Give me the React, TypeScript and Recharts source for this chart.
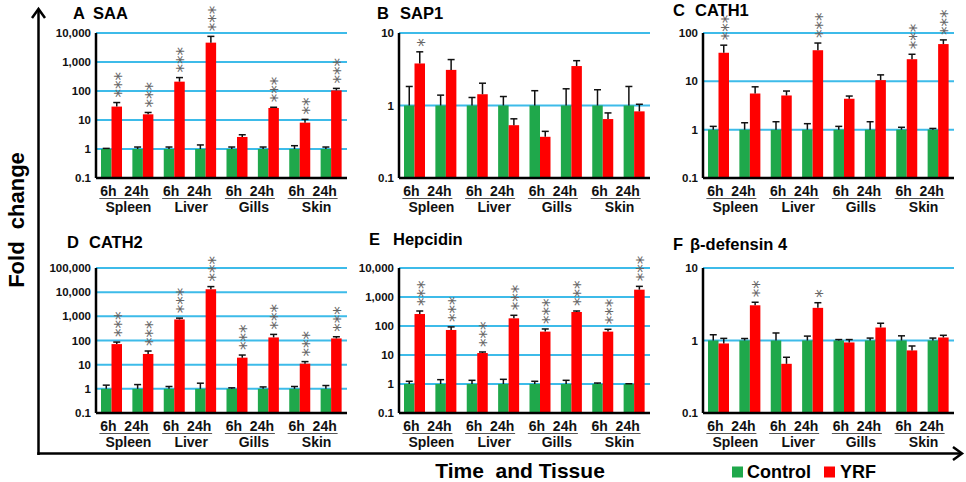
import React from "react"
import { Bar, BarChart, CartesianGrid, XAxis, YAxis } from "recharts"

// categories
const TISSUES = ["Spleen", "Liver", "Gills", "Skin"]
const TIMES = ["6h", "24h"]

// panel titles
const LETTERS = ["A", "B", "C", "D", "E", "F"]
const GENES = ["SAA", "SAP1", "CATH1", "CATH2", "Hepcidin", "β-defensin 4"]

// y axis ticks per panel
const TICKS_A = [0.1, 1, 10, 100, 1000, 10000]
const TICKS_B = [0.1, 1, 10]
const TICKS_C = [0.1, 1, 10, 100]
const TICKS_D = [0.1, 1, 10, 100, 1000, 10000, 100000]
const TICKS_E = [0.1, 1, 10, 100, 1000, 10000]
const TICKS_F = [0.1, 1, 10]

// control is the reference level
const CONTROL = [1, 1, 1, 1, 1, 1, 1, 1]

// order: Spleen 6h, Spleen 24h, Liver 6h, Liver 24h, Gills 6h, Gills 24h, Skin 6h, Skin 24h
const SAA_CTRL_ERR = [0.05, 0.17, 0.17, 0.38, 0.17, 0.17, 0.3, 0.17]
const SAA_YRF = [29, 15.7, 210, 4650, 2.6, 26, 8.1, 105]
const SAA_YRF_ERR = [11, 2.5, 80, 3000, 0.5, 1.5, 2.4, 18]
const SAA_STARS = [3, 3, 3, 3, 0, 3, 2, 3]

const SAP1_CTRL_ERR = [0.83, 0.39, 0.29, 0.33, 0.6, 0.7, 0.65, 0.83]
const SAP1_YRF = [3.8, 3.1, 1.43, 0.535, 0.37, 3.5, 0.65, 0.83]
const SAP1_YRF_ERR = [1.7, 1.2, 0.6, 0.12, 0.07, 0.65, 0.14, 0.21]
const SAP1_STARS = [1, 0, 0, 0, 0, 0, 0, 0]

const CATH1_CTRL_ERR = [0.17, 0.39, 0.46, 0.33, 0.17, 0.46, 0.12, 0.06]
const CATH1_YRF = [39, 5.6, 5.1, 44, 4.36, 10.6, 28.7, 59]
const CATH1_YRF_ERR = [17, 2.1, 1.2, 18, 0.6, 3, 7.6, 13]
const CATH1_STARS = [3, 0, 0, 3, 0, 0, 3, 3]

const CATH2_CTRL_ERR = [0.42, 0.5, 0.25, 0.71, 0.1, 0.2, 0.25, 0.37]
const CATH2_YRF = [71, 27.7, 742, 13200, 19.5, 134, 11, 122]
const CATH2_YRF_ERR = [15, 9, 100, 3800, 5.5, 45, 2.4, 21]
const CATH2_STARS = [3, 3, 3, 3, 3, 3, 3, 3]

const HEPC_CTRL_ERR = [0.24, 0.41, 0.34, 0.45, 0.24, 0.34, 0.08, 0.02]
const HEPC_YRF = [259, 73, 11.7, 184, 64, 304, 64, 1790]
const HEPC_YRF_ERR = [70, 20, 1, 50, 15, 25, 13, 540]
const HEPC_STARS = [3, 3, 3, 3, 3, 3, 3, 3]

const BDEF_CTRL_ERR = [0.2, 0.065, 0.27, 0.15, 0.03, 0.08, 0.16, 0.08]
const BDEF_YRF = [0.91, 3.06, 0.477, 2.82, 0.94, 1.51, 0.73, 1.1]
const BDEF_YRF_ERR = [0.16, 0.31, 0.11, 0.5, 0.09, 0.22, 0.11, 0.08]
const BDEF_STARS = [0, 2, 0, 1, 0, 0, 0, 0]

const GREEN = "#1fa84b"
const RED = "#ff0000"
const GRID = "#3dbbe9"
const FONT = "'Liberation Sans', Arial, sans-serif"
const STAR_FONT = "'DejaVu Sans', sans-serif"

const PLOT_W = 251
const PLOT_H = 145
const Y_W = 60
const M_TOP = 34
const M_RIGHT = 6
const X_H = 42
const BAND = PLOT_W / (TISSUES.length * TIMES.length)

const fmt = (v: number) => v.toLocaleString("en-US")

function buildRows(ctrlErr: number[], yrf: number[], yrfErr: number[], stars: number[]) {
  return TISSUES.flatMap((tissue, ti) =>
    TIMES.map((time, k) => {
      const i = ti * 2 + k
      return {
        id: `${tissue} ${time}`,
        tissue,
        ctrl: CONTROL[i],
        ctrlErr: ctrlErr[i],
        yrf: yrf[i],
        yrfErr: yrfErr[i],
        stars: stars[i],
      }
    })
  )
}

/** bar with an upward-only error whisker and stacked significance stars */
function makeShape(valKey: string, errKey: string, base: number, starKey?: string) {
  return (props: any) => {
    const { x, y, width, height, fill, payload } = props
    const v = payload[valKey]
    const e = payload[errKey]
    const pxPerDecade = height / Math.log10(v / base)
    const yErr = y - Math.log10((v + e) / v) * pxPerDecade
    const cx = x + width / 2
    const n = starKey ? payload[starKey] : 0
    return (
      <g>
        <rect x={x} y={y} width={width} height={height} fill={fill} />
        <line x1={cx} x2={cx} y1={y} y2={yErr} stroke="#111" strokeWidth={1.5} />
        <line x1={cx - 3.5} x2={cx + 3.5} y1={yErr} y2={yErr} stroke="#111" strokeWidth={1.5} />
        {n > 0 && (
          // the stack of stars is one text run turned upright
          <text
            transform={`translate(${cx + 9.8},${yErr - 5}) rotate(-90)`}
            fontFamily={STAR_FONT}
            fontSize={17}
            fill="#666"
          >
            {"*".repeat(n)}
          </text>
        )}
      </g>
    )
  }
}

/** one tick per category; the 6h tick draws the "6h 24h" pair and the tissue under it */
function TissueTick(props: any) {
  const { x, y, index } = props
  if (index % TIMES.length !== 0) return <g />
  const cx = x + BAND / 2
  return (
    <g fontFamily={FONT} fontWeight="bold" fill="#111">
      <text x={cx - 3} y={y + 18} textAnchor="middle" fontSize={14} style={{ whiteSpace: "pre" }}>
        {TIMES.join("  ")}
      </text>
      <line x1={cx - 28} x2={cx + 22} y1={y + 20.5} y2={y + 20.5} stroke="#555" strokeWidth={1} />
      <text x={cx + 1} y={y + 34} textAnchor="middle" fontSize={14}>
        {TISSUES[index / TIMES.length]}
      </text>
    </g>
  )
}

interface PanelProps {
  left: number
  top: number
  ticks: number[]
  ctrlErr: number[]
  yrf: number[]
  yrfErr: number[]
  stars: number[]
}

function Panel({ left, top, ticks, ctrlErr, yrf, yrfErr, stars }: PanelProps) {
  const data = buildRows(ctrlErr, yrf, yrfErr, stars)
  const base = ticks[0]
  return (
    <div style={{ position: "absolute", left: left - Y_W, top: top - M_TOP }}>
      <BarChart
        width={Y_W + PLOT_W + M_RIGHT}
        height={M_TOP + PLOT_H + X_H}
        data={data}
        margin={{ top: M_TOP, right: M_RIGHT, left: 0, bottom: 0 }}
        barGap={0}
      >
        <CartesianGrid vertical={false} stroke={GRID} strokeWidth={2} />
        <XAxis
          dataKey="id"
          height={X_H}
          interval={0}
          tickLine={false}
          tickSize={0}
          tickMargin={0}
          axisLine={{ stroke: "#000", strokeWidth: 2.5 }}
          tick={<TissueTick />}
        />
        <YAxis
          scale="log"
          domain={[base, ticks[ticks.length - 1]]}
          ticks={ticks}
          interval={0}
          width={Y_W}
          tickLine={false}
          tickSize={0}
          tickMargin={5}
          tickFormatter={fmt}
          axisLine={{ stroke: "#000", strokeWidth: 2.5 }}
          tick={{ fill: "#111", fontSize: 11.5, fontWeight: "bold", fontFamily: FONT }}
        />
        <Bar
          dataKey="ctrl"
          fill={GREEN}
          barSize={10.5}
          isAnimationActive={false}
          shape={makeShape("ctrl", "ctrlErr", base)}
        />
        <Bar
          dataKey="yrf"
          fill={RED}
          barSize={10.5}
          isAnimationActive={false}
          shape={makeShape("yrf", "yrfErr", base, "stars")}
        />
      </BarChart>
    </div>
  )
}

// title placement: letter x, gene name x, baseline
const TITLE_POS = [
  [73, 93, 19],
  [377, 400, 18.5],
  [673, 695, 15.5],
  [67, 89, 248],
  [369, 393, 245],
  [673, 690, 250],
]

export default function App() {
  return (
    <div style={{ position: "absolute", left: 0, top: 0, width: 966, height: 482, background: "#fff" }}>
      <Panel left={96} top={33} ticks={TICKS_A} ctrlErr={SAA_CTRL_ERR} yrf={SAA_YRF} yrfErr={SAA_YRF_ERR} stars={SAA_STARS} />
      <Panel left={399} top={33} ticks={TICKS_B} ctrlErr={SAP1_CTRL_ERR} yrf={SAP1_YRF} yrfErr={SAP1_YRF_ERR} stars={SAP1_STARS} />
      <Panel left={703} top={33} ticks={TICKS_C} ctrlErr={CATH1_CTRL_ERR} yrf={CATH1_YRF} yrfErr={CATH1_YRF_ERR} stars={CATH1_STARS} />
      <Panel left={96} top={268} ticks={TICKS_D} ctrlErr={CATH2_CTRL_ERR} yrf={CATH2_YRF} yrfErr={CATH2_YRF_ERR} stars={CATH2_STARS} />
      <Panel left={399} top={268} ticks={TICKS_E} ctrlErr={HEPC_CTRL_ERR} yrf={HEPC_YRF} yrfErr={HEPC_YRF_ERR} stars={HEPC_STARS} />
      <Panel left={703} top={268} ticks={TICKS_F} ctrlErr={BDEF_CTRL_ERR} yrf={BDEF_YRF} yrfErr={BDEF_YRF_ERR} stars={BDEF_STARS} />

      <svg
        width={966}
        height={482}
        style={{ position: "absolute", left: 0, top: 0, pointerEvents: "none" }}
        fontFamily={FONT}
        fontWeight="bold"
      >
        {/* outer axes with arrows */}
        <polyline points="38.5,455 38.5,9" fill="none" stroke="#000" strokeWidth={2.5} />
        <polyline points="32,18 38.5,9 45,18" fill="none" stroke="#000" strokeWidth={2.5} />
        <polyline points="37.3,453.5 962,453.5" fill="none" stroke="#000" strokeWidth={2.5} />
        <polyline points="953,447 962,453.5 953,460" fill="none" stroke="#000" strokeWidth={2.5} />

        <text
          transform="translate(24,220) rotate(-90)"
          textAnchor="middle"
          fontSize={22}
          fill="#000"
          style={{ whiteSpace: "pre" }}
        >
          Fold  change
        </text>
        <text x={520} y={477.5} textAnchor="middle" fontSize={21} fill="#000" style={{ whiteSpace: "pre" }}>
          Time  and Tissue
        </text>

        {/* legend */}
        <rect x={732} y={466.5} width={11} height={11} fill={GREEN} />
        <text x={747} y={478} fontSize={18} fill="#000">Control</text>
        <rect x={824} y={466.5} width={11} height={11} fill={RED} />
        <text x={840} y={478} fontSize={18} fill="#000">YRF</text>

        {/* panel titles */}
        {LETTERS.map((l, i) => (
          <g key={l}>
            <text x={TITLE_POS[i][0]} y={TITLE_POS[i][2]} fontSize={16.5} fill="#000">{l}</text>
            <text x={TITLE_POS[i][1]} y={TITLE_POS[i][2]} fontSize={16.5} fill="#000">{GENES[i]}</text>
          </g>
        ))}
      </svg>
    </div>
  )
}
